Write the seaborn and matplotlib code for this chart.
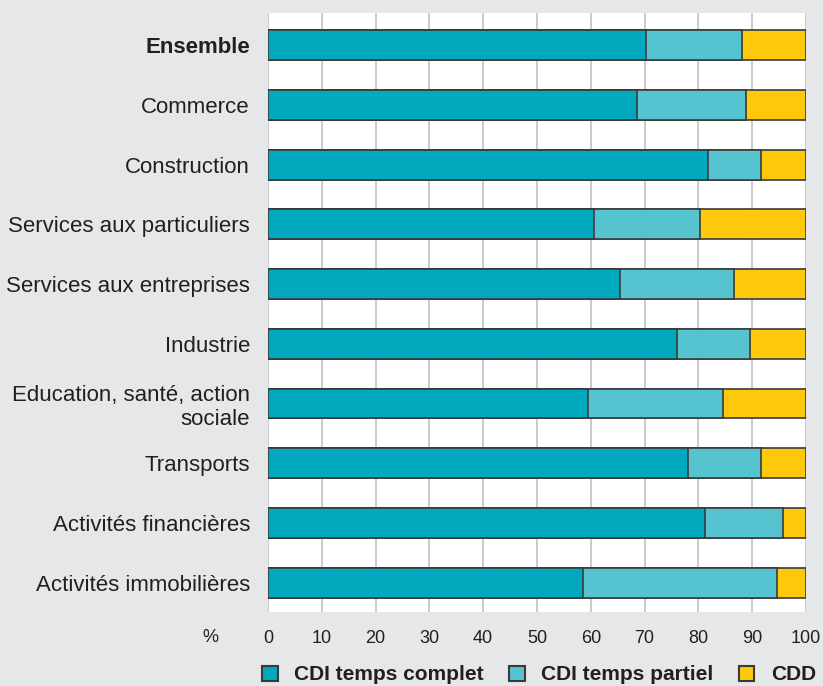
import pandas as pd
import seaborn as sns
import matplotlib.pyplot as plt
from matplotlib.patches import Patch

sns.set_style("white")
plt.rcParams["font.family"] = ["Liberation Sans", "DejaVu Sans"]

secteurs = [
    "Ensemble",
    "Commerce",
    "Construction",
    "Services aux particuliers",
    "Services aux entreprises",
    "Industrie",
    "Education, santé, action\nsociale",
    "Transports",
    "Activités financières",
    "Activités immobilières",
]
cdi_complet = [70.3, 68.6, 81.8, 60.6, 65.4, 76.0, 59.5, 78.1, 81.2, 58.6]
cdi_partiel = [17.8, 20.2, 9.8, 19.7, 21.2, 13.6, 25.1, 13.5, 14.5, 36.0]
cdd = [11.9, 11.2, 8.4, 19.7, 13.4, 10.4, 15.4, 8.4, 4.3, 5.4]

df = pd.DataFrame({"secteur": secteurs, "complet": cdi_complet,
                   "partiel": cdi_partiel, "cdd": cdd})
df["cum_partiel"] = df["complet"] + df["partiel"]
df["cum_cdd"] = df["cum_partiel"] + df["cdd"]

c_complet = "#00a9bd"
c_partiel = "#55c4d0"
c_cdd = "#ffc90b"
edge = "#3a3a3a"
bg = "#e6e7e8"
txt = "#231f20"

fig = plt.figure(figsize=(8.23, 6.86), dpi=100, facecolor=bg)
ax = fig.add_axes([0.3256, 0.108, 0.6537, 0.873])
ax.set_facecolor("white")

# stacked bars: draw cumulative totals from the longest down
for col, c in [("cum_cdd", c_cdd), ("cum_partiel", c_partiel), ("complet", c_complet)]:
    sns.barplot(data=df, x=col, y="secteur", orient="h", color=c, width=0.5,
                edgecolor=edge, linewidth=1.2, saturation=1, ax=ax, zorder=3)

ax.set_xlim(0, 100)
ax.set_ylim(9.49, -0.54)
ax.set_xticks(range(0, 101, 10))
ax.grid(axis="x", color="#c0c1c4", linewidth=1.2, zorder=0)
ax.set_axisbelow(True)
for s in ax.spines.values():
    s.set_visible(False)
ax.tick_params(axis="both", length=0, colors=txt)
ax.tick_params(axis="y", pad=13, labelsize=16)
ax.tick_params(axis="x", pad=13, labelsize=13)
ax.set_xlabel("")
ax.set_ylabel("")
ax.get_yticklabels()[0].set_fontweight("bold")
for lab in ax.get_yticklabels():
    lab.set_horizontalalignment("right")
    lab.set_multialignment("right")
    lab.set_linespacing(1.2)

fig.text(210 / 823, 1 - 637 / 686, "%", fontsize=13, color=txt,
         ha="center", va="center")

handles = [Patch(facecolor=c_complet, edgecolor=edge, linewidth=1.5),
           Patch(facecolor=c_partiel, edgecolor=edge, linewidth=1.5),
           Patch(facecolor=c_cdd, edgecolor=edge, linewidth=1.5)]
fig.legend(handles, ["CDI temps complet", "CDI temps partiel", "CDD"],
           loc="center", bbox_to_anchor=(539 / 823, 1 - 675 / 686), ncol=3,
           frameon=False, handlelength=0.75, handleheight=0.75, handletextpad=0.8,
           columnspacing=1.2, prop={"size": 15, "weight": "bold"},
           labelcolor=txt)

fig.savefig("out.png", dpi=100, facecolor=bg)
